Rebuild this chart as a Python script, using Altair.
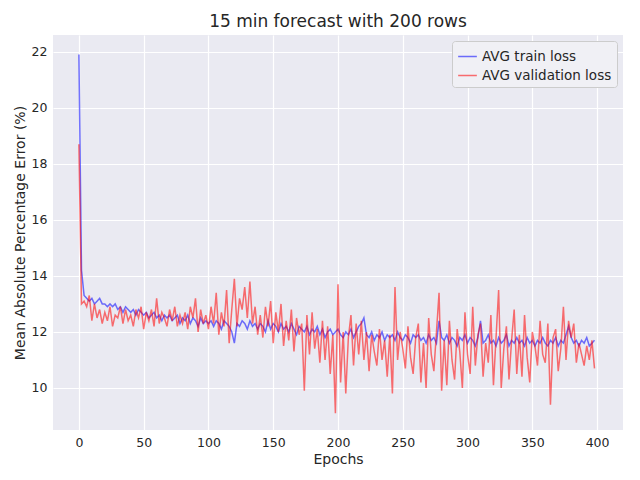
import altair as alt
import pandas as pd

epochs = list(range(0, 400, 2))

train_loss = [
    21.9, 14.2, 13.3, 13.2, 13.1, 13.2, 13.0, 13.1, 13.2, 13.0,
    13.0, 12.9, 13.0, 12.9, 13.0, 12.8, 12.9, 12.7, 12.9, 12.8,
    12.7, 12.8, 12.6, 12.8, 12.7, 12.6, 12.7, 12.5, 12.6, 12.7,
    12.5, 12.6, 12.4, 12.6, 12.5, 12.6, 12.4, 12.5, 12.6, 12.3,
    12.5, 12.4, 12.6, 12.3, 12.5, 12.4, 12.2, 12.5, 12.3, 12.4,
    12.3, 12.4, 12.2, 12.4, 12.3, 12.1, 12.4, 12.3, 12.2, 12.0,
    11.6, 12.3, 12.2, 12.4, 12.3, 12.1, 12.4, 12.2, 12.3, 12.1,
    12.3, 12.2, 12.0, 12.4, 12.1, 12.3, 12.2, 12.0, 12.3, 12.1,
    12.2, 12.0, 12.3, 12.1, 11.9, 12.2, 12.1, 12.0, 12.2, 11.9,
    12.1, 12.0, 12.2, 11.9, 12.1, 11.8, 12.0, 12.1, 11.9, 12.0,
    12.1, 11.9, 11.8, 12.0, 11.9, 12.1, 11.8, 12.0, 12.2, 12.3,
    12.5, 11.9, 11.8, 12.0, 11.7, 11.9, 11.8, 12.0, 11.7, 11.9,
    11.8, 11.9, 11.7, 12.0, 11.8, 11.7, 11.9, 11.8, 11.6, 11.9,
    11.8, 11.9, 11.7, 11.8, 11.6, 11.9, 11.7, 11.8, 11.6, 12.4,
    11.8, 11.7, 11.9, 11.6, 11.8, 11.7, 11.5, 11.8, 11.7, 11.9,
    11.6, 11.8, 11.7, 11.5, 11.8, 12.4, 11.6, 11.7, 11.9, 11.6,
    11.7, 11.5, 11.8, 11.6, 11.7, 11.9, 11.5, 11.7, 11.6, 11.8,
    11.6, 11.7, 11.5, 11.8, 11.6, 11.7, 11.5, 11.7, 11.6, 11.8,
    11.6, 11.5, 11.7, 11.6, 11.8, 11.5, 11.7, 11.6, 11.9, 12.2,
    11.8, 11.6, 11.7, 11.5, 11.7, 11.6, 11.8, 11.5, 11.6, 11.7,
]

val_loss = [
    18.7, 13.0, 13.1, 12.9, 13.3, 12.4, 13.0, 12.5, 12.8, 12.3,
    12.7, 12.4, 12.9, 12.2, 12.6, 12.5, 12.9, 12.3, 12.8, 12.4,
    12.6, 12.2, 12.8, 12.5, 12.9, 12.1, 12.7, 12.4, 12.8, 12.2,
    13.2, 12.3, 12.7, 12.5, 12.2, 12.8, 12.4, 12.9, 12.2, 12.6,
    12.3, 12.7, 12.1, 12.9, 12.5, 13.2, 12.0, 12.8, 12.3, 12.6,
    12.1, 12.9, 12.3, 13.4, 11.9, 12.7, 12.2, 13.5, 11.6, 12.8,
    13.9, 12.2, 13.2, 12.8, 13.6, 12.5, 13.8, 12.3, 12.9, 11.9,
    12.6, 11.8, 12.9, 12.2, 13.1, 11.6, 12.7, 12.0, 13.0, 11.5,
    12.4, 11.7, 12.8, 11.3, 12.5, 11.9, 12.3, 9.9, 12.6, 11.2,
    12.7, 11.4, 12.1, 10.9, 12.4, 11.0, 12.2, 10.5, 11.9, 9.1,
    13.7, 10.2, 12.0, 9.8, 11.8, 12.6, 10.8, 12.3, 11.2, 12.4,
    11.0, 12.0, 10.6, 11.9, 11.3, 10.8, 12.1, 11.0, 11.7, 10.4,
    11.9, 9.8, 13.6, 11.0, 12.0, 11.4, 10.7, 12.2, 11.1, 10.5,
    11.8, 12.3, 10.2, 11.6, 10.0, 12.5, 11.2, 10.6, 12.0, 13.4,
    9.9, 11.7, 10.1, 12.4, 11.0, 10.3, 12.1, 11.3, 10.0, 12.7,
    11.2, 10.5, 12.9, 10.8, 11.9, 12.3, 10.4, 11.6, 10.9, 12.6,
    10.1, 11.8, 13.5, 10.0, 11.4, 12.2, 10.3, 11.7, 12.8, 10.5,
    11.9, 10.4, 12.6, 11.1, 10.2, 12.0, 11.5, 10.8, 12.4, 11.2,
    10.9, 12.3, 9.4, 11.8, 12.1, 10.6, 11.4, 12.9, 11.0, 12.4,
    11.8, 12.3, 10.9, 11.6, 11.2, 10.8, 11.5, 11.0, 11.7, 10.7,
]

series = ["AVG train loss", "AVG validation loss"]

df = pd.concat([
    pd.DataFrame({"epoch": epochs, "loss": train_loss, "series": series[0]}),
    pd.DataFrame({"epoch": epochs, "loss": val_loss, "series": series[1]}),
])

font = "DejaVu Sans"

chart = alt.Chart(df).mark_line(strokeWidth=1.5, opacity=0.55).encode(
    x=alt.X("epoch:Q", title="Epochs",
            scale=alt.Scale(domain=[-20, 420], nice=False),
            axis=alt.Axis(values=list(range(0, 401, 50)))),
    y=alt.Y("loss:Q", title="Mean Absolute Percentage Error (%)",
            scale=alt.Scale(domain=[8.5, 22.6], nice=False, zero=False),
            axis=alt.Axis(values=list(range(10, 23, 2)))),
    color=alt.Color("series:N", title=None,
                    scale=alt.Scale(domain=series, range=["#0000ff", "#ff0000"]),
                    legend=alt.Legend(orient="top-right", offset=6,
                                      fillColor="#f0f0f5",
                                      strokeColor="#cccccc", padding=5, cornerRadius=3,
                                      labelFontSize=13.5, labelFont=font,
                                      labelColor="#262626",
                                      symbolType="stroke", symbolSize=350,
                                      symbolStrokeWidth=1.5, symbolOpacity=0.55)),
).properties(
    width=570, height=395,
    title=alt.TitleParams("15 min forecast with 200 rows", fontSize=17,
                          font=font, fontWeight="normal", color="#262626"),
).configure_view(
    fill="#eaeaf2", stroke=None
).configure_axis(
    gridColor="white", gridWidth=1.2, domain=False, ticks=False,
    labelFont=font, titleFont=font, labelFontSize=12.5, titleFontSize=14,
    titleFontWeight="normal", labelColor="#262626", titleColor="#262626",
    labelPadding=6,
)

chart.save("out.html", embed_options={"renderer": "svg", "actions": False})
